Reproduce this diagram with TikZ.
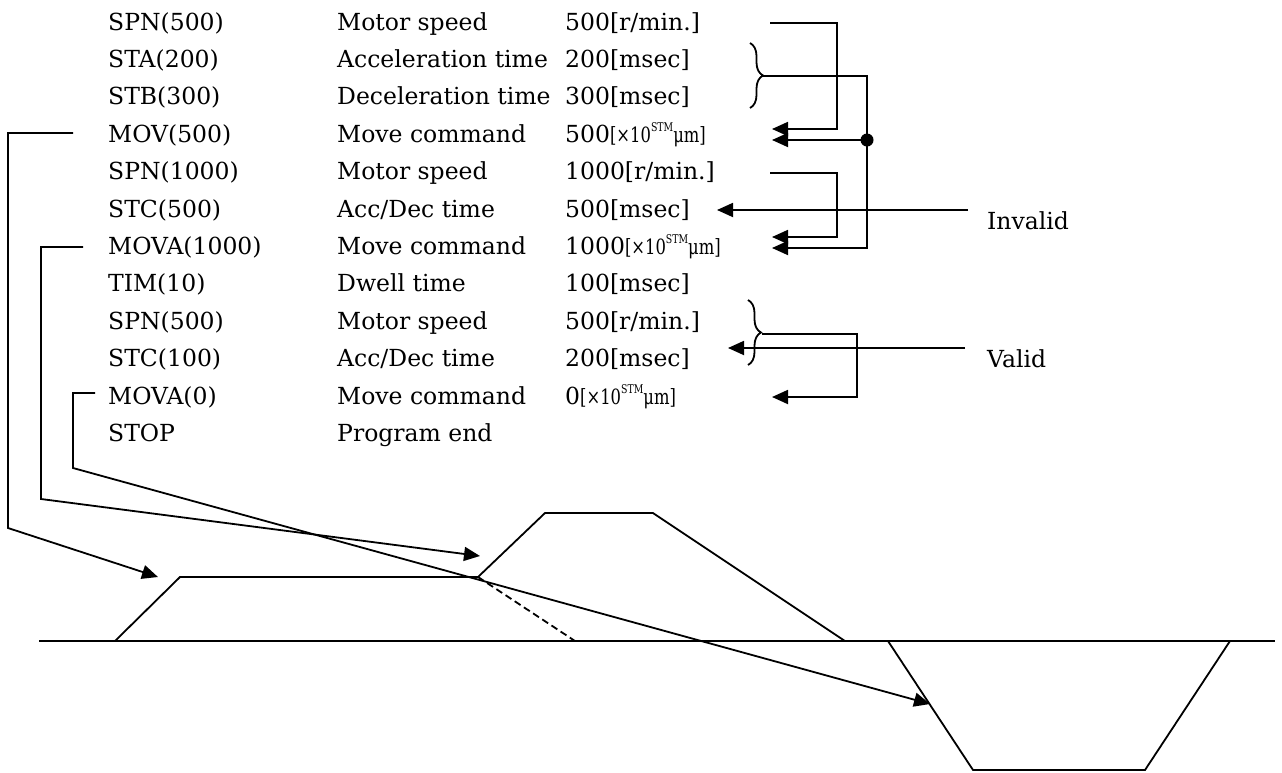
\documentclass[tikz,border=0pt]{standalone}
\usepackage{fontspec}
\setmainfont{DejaVu Serif}
\usetikzlibrary{arrows.meta,decorations.pathreplacing}
\newcommand\umunit{\scalebox{0.78}[1]{\fontsize{21}{24}\selectfont[×10\raisebox{0.5em}{\fontsize{12}{14}\selectfont STM}μm]}}
\begin{document}
\begin{tikzpicture}[x=1pt,y=-1pt,
  txt/.style={anchor=base west,inner sep=0pt,font=\fontsize{23.5}{28}\selectfont},
  ln/.style={line width=1.8pt},
  arr/.style={ln,-{Triangle[length=16pt,width=14pt]}},
  br/.style={ln,decorate,decoration={brace,amplitude=13pt}}]
\useasboundingbox (0,0) rectangle (1282,772);

% ---- program listing ----
\node[txt] (a1) at (108,30)    {SPN(500)};
\node[txt] (b1) at (337,30)    {Motor speed};
\node[txt] (c1) at (565,30)    {500[r/min.]};
\node[txt] (a2) at (108,67.4)  {STA(200)};
\node[txt] (b2) at (337,67.4)  {Acceleration time};
\node[txt] (c2) at (565,67.4)  {200[msec]};
\node[txt] (a3) at (108,104.8) {STB(300)};
\node[txt] (b3) at (337,104.8) {Deceleration time};
\node[txt] (c3) at (565,104.8) {300[msec]};
\node[txt] (a4) at (108,142.2) {MOV(500)};
\node[txt] (b4) at (337,142.2) {Move command};
\node[txt] (c4) at (565,142.2) {500\umunit};
\node[txt] (a5) at (108,179.6) {SPN(1000)};
\node[txt] (b5) at (337,179.6) {Motor speed};
\node[txt] (c5) at (565,179.6) {1000[r/min.]};
\node[txt] (a6) at (108,217)   {STC(500)};
\node[txt] (b6) at (337,217)   {Acc/Dec time};
\node[txt] (c6) at (565,217)   {500[msec]};
\node[txt] (a7) at (108,254.4) {MOVA(1000)};
\node[txt] (b7) at (337,254.4) {Move command};
\node[txt] (c7) at (565,254.4) {1000\umunit};
\node[txt] (a8) at (108,291.8) {TIM(10)};
\node[txt] (b8) at (337,291.8) {Dwell time};
\node[txt] (c8) at (565,291.8) {100[msec]};
\node[txt] (a9) at (108,329.2) {SPN(500)};
\node[txt] (b9) at (337,329.2) {Motor speed};
\node[txt] (c9) at (565,329.2) {500[r/min.]};
\node[txt] (a10) at (108,366.6) {STC(100)};
\node[txt] (b10) at (337,366.6) {Acc/Dec time};
\node[txt] (c10) at (565,366.6) {200[msec]};
\node[txt] (a11) at (108,404)   {MOVA(0)};
\node[txt] (b11) at (337,404)   {Move command};
\node[txt] (c11) at (565,404)   {0\umunit};
\node[txt] (a12) at (108,441.4) {STOP};
\node[txt] (b12) at (337,441.4) {Program end};

\node[txt] (inv) at (987,229) {Invalid};
\node[txt] (val) at (987,367) {Valid};

% ---- right-hand connectors ----
\coordinate (r1s) at (770,23);
\coordinate (r4a) at (772,129);
\coordinate (r4b) at (772,140);
\coordinate (dot) at (867,140);
\coordinate (r5s) at (770,173);
\coordinate (r7a) at (772,237);
\coordinate (r7b) at (772,248);
\coordinate (bt1) at (763,76);
\coordinate (bt2) at (762,334);
\coordinate (r11) at (772,397);
\coordinate (invs) at (968,210);
\coordinate (invt) at (717,210);
\coordinate (vals) at (965,348);
\coordinate (valt) at (728,348);

\draw[br] (750,43) -- (750,108);
\draw[br] (748,300) -- (748,365);

\draw[arr] (r1s) -- (837,23) -- (837,129) -- (r4a);
\draw[arr] (bt1) -- (867,76) -- (867,248) -- (r7b);
\draw[arr] (dot) -- (r4b);
\fill (dot) circle[radius=6.5pt];
\draw[arr] (r5s) -- (837,173) -- (837,237) -- (r7a);
\draw[arr] (invs) -- (invt);
\draw[arr] (bt2) -- (857,334) -- (857,397) -- (r11);
\draw[arr] (vals) -- (valt);

% ---- left-hand connectors ----
\coordinate (l4) at (73,133);
\coordinate (l7) at (83,247);
\coordinate (l11) at (95,393);
\coordinate (t1) at (158,577);
\coordinate (t2) at (480,556);
\coordinate (t3) at (930,704);

\draw[arr] (l4) -- (8,133) -- (8,528) -- (t1);
\draw[arr] (l7) -- (41,247) -- (41,499) -- (t2);
\draw[arr] (l11) -- (73,393) -- (73,468) -- (t3);

% ---- speed profile ----
\coordinate (axl) at (39,641);
\coordinate (axr) at (1275,641);
\draw[ln] (axl) -- (axr);
\draw[ln] (115,641) -- (180,577) -- (478,577) -- (545,513) -- (653,513) -- (845,641);
\draw[ln,dashed,dash pattern=on 7pt off 4pt] (478,577) -- (575,641);
\draw[ln] (888,641) -- (973,770) -- (1145,770) -- (1230,641);
\end{tikzpicture}
\end{document}
